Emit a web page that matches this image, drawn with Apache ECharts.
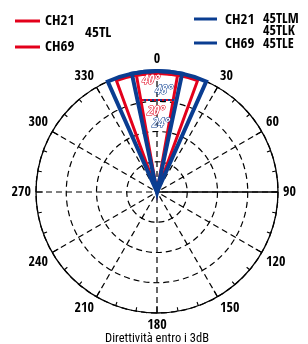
<!DOCTYPE html>
<html><head><meta charset="utf-8">
<script src="https://cdn.jsdelivr.net/npm/echarts@6/dist/echarts.min.js"></script>
<style>html,body{margin:0;padding:0;background:#fff}#c{width:308px;height:344px}</style>
</head><body><div id="c"></div>
<script>
const FONT = "'Open Sans Condensed','Roboto Condensed',sans-serif";
// angle axis tick labels (degrees)
const angleTicks = [0, 30, 60, 90, 120, 150, 180, 210, 240, 270, 300, 330];
// radius rings
const radiusMax = 4;
// beam widths (full angle, degrees) within 3dB
const redBeams = [40, 20];   // 45TL: CH21, CH69
const blueBeams = [48, 24];  // 45TLM/45TLK/45TLE: CH21, CH69
const redLabels = ['40°', '20°'];
const blueLabels = ['48°', '24°'];
const RED = '#e3001b', BLUE = '#0a3d91';

function wedgeRender(color, width, inset) {
  return function (params, api) {
    const half = api.value(0) / 2;
    const c = api.coord([0, 0]);
    const p1 = api.coord([radiusMax, 360 - half]);
    const p2 = api.coord([radiusMax, half]);
    const r = Math.hypot(p1[0] - c[0], p1[1] - c[1]) - inset;
    const a1 = Math.atan2(p1[1] - c[1], p1[0] - c[0]);
    const a2 = Math.atan2(p2[1] - c[1], p2[0] - c[0]);
    return {
      type: 'sector',
      shape: { cx: c[0], cy: c[1], r0: 0, r: r, startAngle: a1, endAngle: a2, clockwise: true },
      style: { fill: 'none', stroke: color, lineWidth: width, lineJoin: 'miter' }
    };
  };
}

const T = (text, x, y, size, extra) => Object.assign({ type: 'text', x: x, y: y,
  style: { text: text, font: 'bold ' + size + 'px ' + FONT, fill: '#000', textVerticalAlign: 'middle' } }, extra || {});

const chart = echarts.init(document.getElementById('c'), null, { renderer: 'canvas' });
chart.setOption({
  animation: false,
  polar: { center: [157, 192], radius: 121 },
  angleAxis: {
    type: 'value', min: 0, max: 360, interval: 30, startAngle: 90, clockwise: true,
    axisLine: { lineStyle: { color: '#000', width: 1.3 } },
    axisTick: { show: true, inside: true, length: 7, lineStyle: { color: '#000', width: 1.2 } },
    minorTick: { show: true, splitNumber: 3, length: 4, lineStyle: { color: '#000', width: 1.1 } },
    axisLabel: { color: '#000', fontFamily: FONT, fontWeight: 'bold', fontSize: 14, margin: 5,
      formatter: v => (angleTicks.indexOf(v) >= 0 ? String(v) : '') },
    splitLine: { show: true, lineStyle: { color: '#000', type: [6, 4], width: 1.2 } }
  },
  radiusAxis: {
    type: 'value', min: 0, max: radiusMax, interval: 1,
    axisLine: { show: false }, axisTick: { show: false }, axisLabel: { show: false },
    splitLine: { show: true, lineStyle: { color: '#000', type: [6, 4], width: 1.2 } }
  },
  series: [
    { type: 'line', coordinateSystem: 'polar', data: [[0, 90], [radiusMax, 90]], symbol: 'none',
      lineStyle: { color: '#000', width: 1.3 }, silent: true, z: 1 },
    { type: 'custom', coordinateSystem: 'polar', data: redBeams.map(v => [v]),
      renderItem: wedgeRender(RED, 3, 2.5), z: 2 },
    { type: 'custom', coordinateSystem: 'polar', data: blueBeams.map(v => [v]),
      renderItem: wedgeRender(BLUE, 4, 0), z: 3 }
  ],
  graphic: [
    // legend left
    { type: 'line', shape: { x1: 15, y1: 21, x2: 40, y2: 21 }, style: { stroke: RED, lineWidth: 3 } },
    T('CH21', 45, 21, 15),
    { type: 'line', shape: { x1: 15, y1: 47, x2: 40, y2: 47 }, style: { stroke: RED, lineWidth: 3 } },
    T('CH69', 45, 47, 15),
    T('45TL', 85, 33, 15),
    // legend right
    { type: 'line', shape: { x1: 194, y1: 19, x2: 217, y2: 19 }, style: { stroke: BLUE, lineWidth: 3 } },
    T('CH21', 225, 20, 15),
    T('45TLM', 263, 19, 14),
    T('45TLK', 263, 31, 14),
    { type: 'line', shape: { x1: 194, y1: 43, x2: 217, y2: 43 }, style: { stroke: BLUE, lineWidth: 3 } },
    T('CH69', 225, 44, 15),
    T('45TLE', 263, 44, 14),
    // beam labels
    { type: 'text', x: 150, y: 81, z: 10, style: { text: redLabels[0], font: 'italic 13px ' + FONT, fill: '#fff', stroke: RED, lineWidth: 1, textAlign: 'center', textVerticalAlign: 'middle' } },
    { type: 'text', x: 163, y: 91, z: 10, style: { text: blueLabels[0], font: 'italic 13px ' + FONT, fill: '#fff', stroke: BLUE, lineWidth: 1, textAlign: 'center', textVerticalAlign: 'middle' } },
    { type: 'line', z: 10, shape: { x1: 142, y1: 100, x2: 174, y2: 100 }, style: { stroke: RED, lineWidth: 2, lineDash: [2, 2] } },
    { type: 'line', z: 10, shape: { x1: 144, y1: 100, x2: 174, y2: 100 }, style: { stroke: BLUE, lineWidth: 2, lineDash: [2, 2] } },
    { type: 'text', x: 155, y: 112, z: 10, style: { text: redLabels[1], font: 'italic 13px ' + FONT, fill: '#fff', stroke: RED, lineWidth: 1, textAlign: 'center', textVerticalAlign: 'middle' } },
    { type: 'text', x: 160, y: 124, z: 10, style: { text: blueLabels[1], font: 'italic 13px ' + FONT, fill: '#fff', stroke: BLUE, lineWidth: 1, textAlign: 'center', textVerticalAlign: 'middle' } },
    // bottom caption
    { type: 'text', x: 157, y: 339, style: { text: 'Direttività entro i 3dB', font: "12.5px 'Roboto Condensed', sans-serif", fill: '#000', textAlign: 'center', textVerticalAlign: 'middle' } }
  ]
});
</script></body></html>
